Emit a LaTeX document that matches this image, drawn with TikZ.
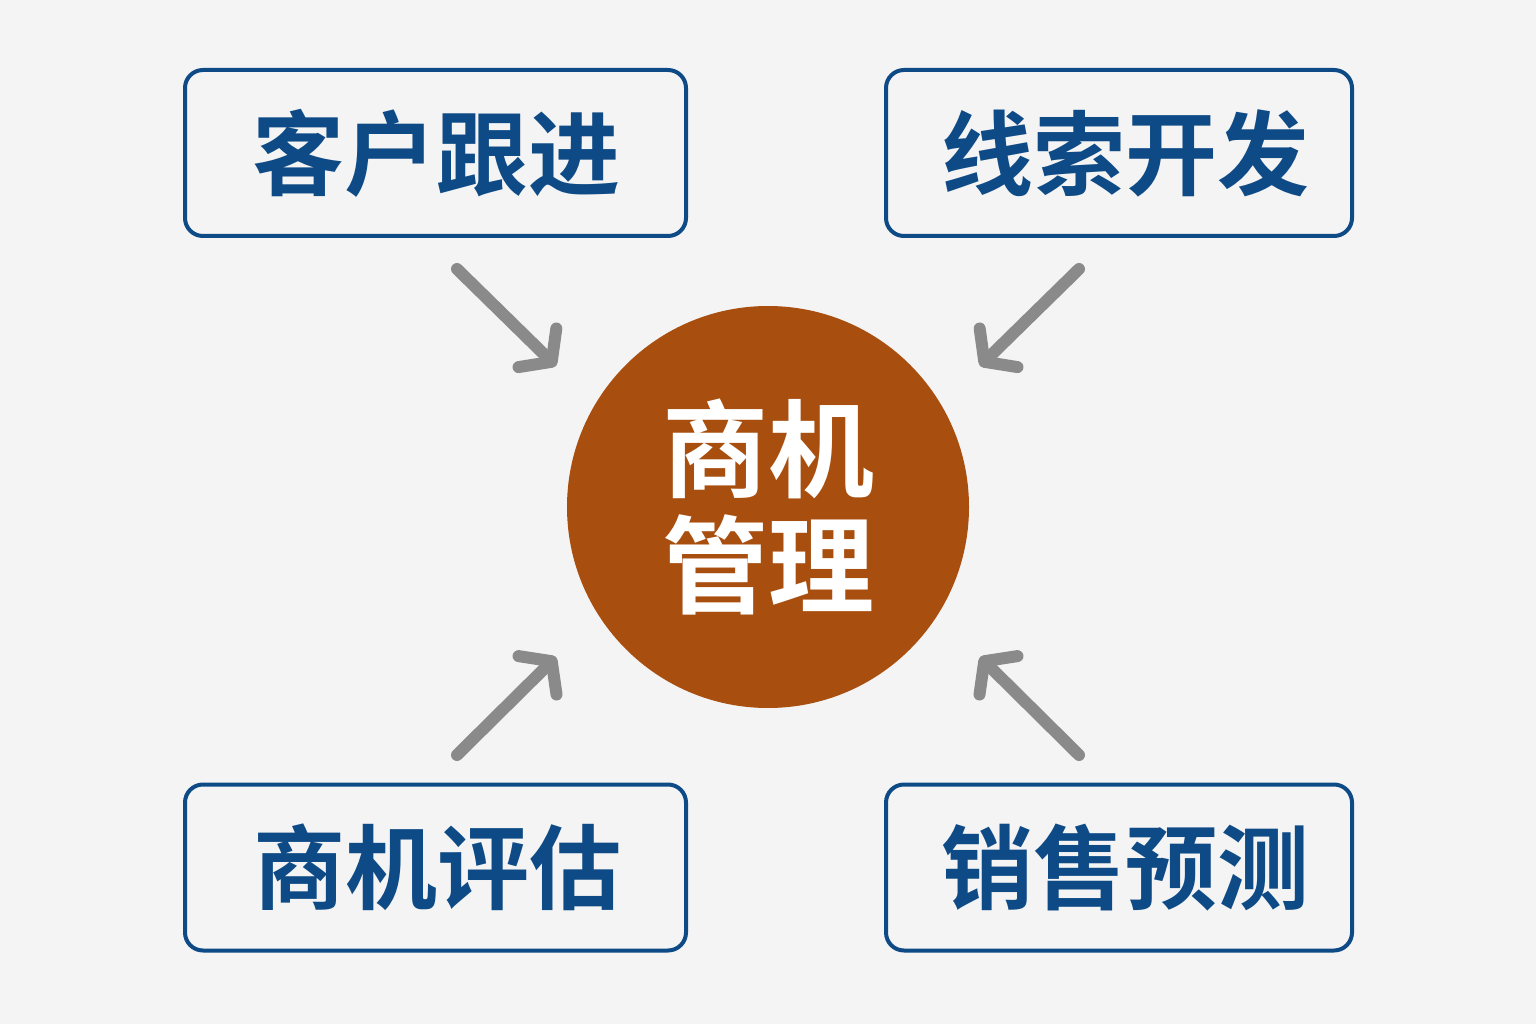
\documentclass[tikz,border=0pt]{standalone}
\usepackage{fontspec}
\newfontfamily\cjk{Noto Sans CJK SC Bold}
\usetikzlibrary{arrows.meta}
\definecolor{bg}{HTML}{F4F4F4}
\definecolor{navy}{HTML}{0E4A85}
\definecolor{rust}{HTML}{A84E0F}
\definecolor{arrgray}{HTML}{8A8A8A}
\tikzset{
  x=1pt,y=-1pt,
  box/.style={draw=navy,line width=4pt,rounded corners=18pt,fill=bg,
    minimum height=166pt,inner sep=0pt,
    font=\cjk\fontsize{92}{92}\selectfont,text=navy},
  hub/.style={circle,fill=rust,minimum size=402pt,inner sep=0pt,
    font=\cjk\fontsize{106}{122}\selectfont,text=white,align=center},
  link/.style={draw=arrgray,line width=12pt,line cap=round,line join=round,
    -{Straight Barb[length=20pt,width=54pt,round]}}
}
\begin{document}
\begin{tikzpicture}
\fill[bg] (0,0) rectangle (1536,1024);
\useasboundingbox (0,0) rectangle (1536,1024);
\node[box,minimum width=501pt] (tl) at (435.5,153) {\hspace*{2pt}客户跟进};
\node[box,minimum width=466pt] (tr) at (1119,153) {\hspace*{12pt}线索开发};
\node[box,minimum width=501pt] (bl) at (435.5,867.5) {\hspace*{4pt}商机评估};
\node[box,minimum width=466pt] (br) at (1119,867.5) {\hspace*{12pt}销售预测};
\node[hub] (c) at (768,507) {商机\\[-6pt]管理};
\coordinate (a1s) at (457,269); \coordinate (a1e) at (556,366);
\coordinate (a2s) at (1079,269); \coordinate (a2e) at (980,366);
\coordinate (a3s) at (457,755); \coordinate (a3e) at (556,657);
\coordinate (a4s) at (1079,755); \coordinate (a4e) at (980,657);
\draw[link] (a1s) -- (a1e);
\draw[link] (a2s) -- (a2e);
\draw[link] (a3s) -- (a3e);
\draw[link] (a4s) -- (a4e);
\end{tikzpicture}
\end{document}
